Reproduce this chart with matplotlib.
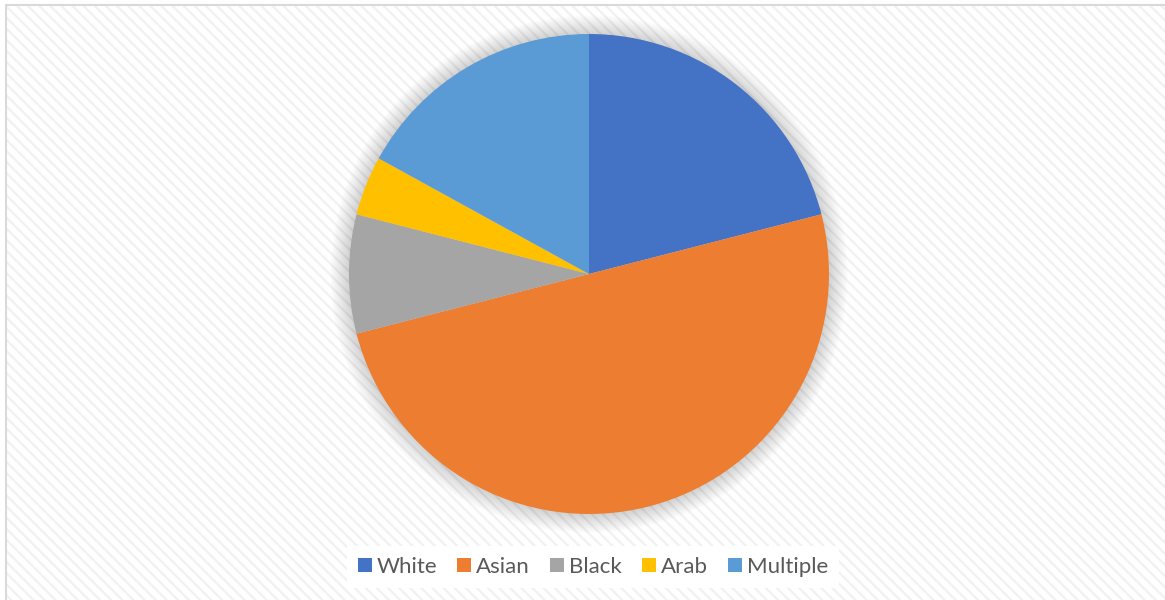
import matplotlib.pyplot as plt
import matplotlib.patches as mpatches

# proporção por grupo étnico
grupos = ['White', 'Asian', 'Black', 'Arab', 'Multiple']
valores = [21, 50, 8, 4, 17]
cores = ['#4472C4', '#ED7D31', '#A5A5A5', '#FFC000', '#5B9BD5']

plt.rcParams['hatch.linewidth'] = 1.6
plt.rcParams['font.family'] = ['Lato', 'DejaVu Sans']

fig = plt.figure(figsize=(11.65, 6), dpi=100)

# fundo listrado com borda cinza
listras = mpatches.Rectangle((6 / 1165, -0.05), 1.1, 1 - 5 / 600 + 0.05,
                             transform=fig.transFigure, facecolor='white',
                             edgecolor='#f1f1f1', linewidth=0, hatch='\\\\\\',
                             zorder=0)
borda = mpatches.Rectangle((6 / 1165, -0.05), 1.1, 1 - 5 / 600 + 0.05,
                           transform=fig.transFigure, facecolor='none',
                           edgecolor='#d9d9d9', linewidth=1.5, zorder=0.5)
fig.patches.extend([listras, borda])

# eixo quadrado para a pizza
cx, cy, r = 589 / 1165, 1 - 274 / 600, 240
ax = fig.add_axes([cx - r / 1165, cy - r / 600, 2 * r / 1165, 2 * r / 600])
ax.set_zorder(2)
ax.patch.set_visible(False)
ax.axis('off')

# sombra suave em volta da pizza
n_sombra = 22
for i in range(n_sombra):
    ax.add_patch(mpatches.Circle((0, 0), 1 + 0.0036 * (n_sombra - i),
                                 color='black', alpha=0.0075, lw=0,
                                 clip_on=False, zorder=1))

ax.pie(valores, colors=cores, startangle=90, counterclock=False, radius=1,
       wedgeprops={'linewidth': 0, 'zorder': 2})
ax.set_xlim(-1, 1)
ax.set_ylim(-1, 1)

handles = [mpatches.Patch(facecolor=c, edgecolor='none') for c in cores]
leg = fig.legend(handles, grupos, loc='center', ncol=5,
                 bbox_to_anchor=(593 / 1165, 1 - 567 / 600), frameon=True,
                 fancybox=False, fontsize=16, handlelength=0.62,
                 handleheight=0.62, handletextpad=0.22, columnspacing=0.92,
                 borderpad=0.5, labelcolor='#595959')
leg.set_zorder(3)
leg.get_frame().set_facecolor('white')
leg.get_frame().set_edgecolor('none')
leg.get_frame().set_alpha(1)

fig.savefig('out.png', dpi=100)
